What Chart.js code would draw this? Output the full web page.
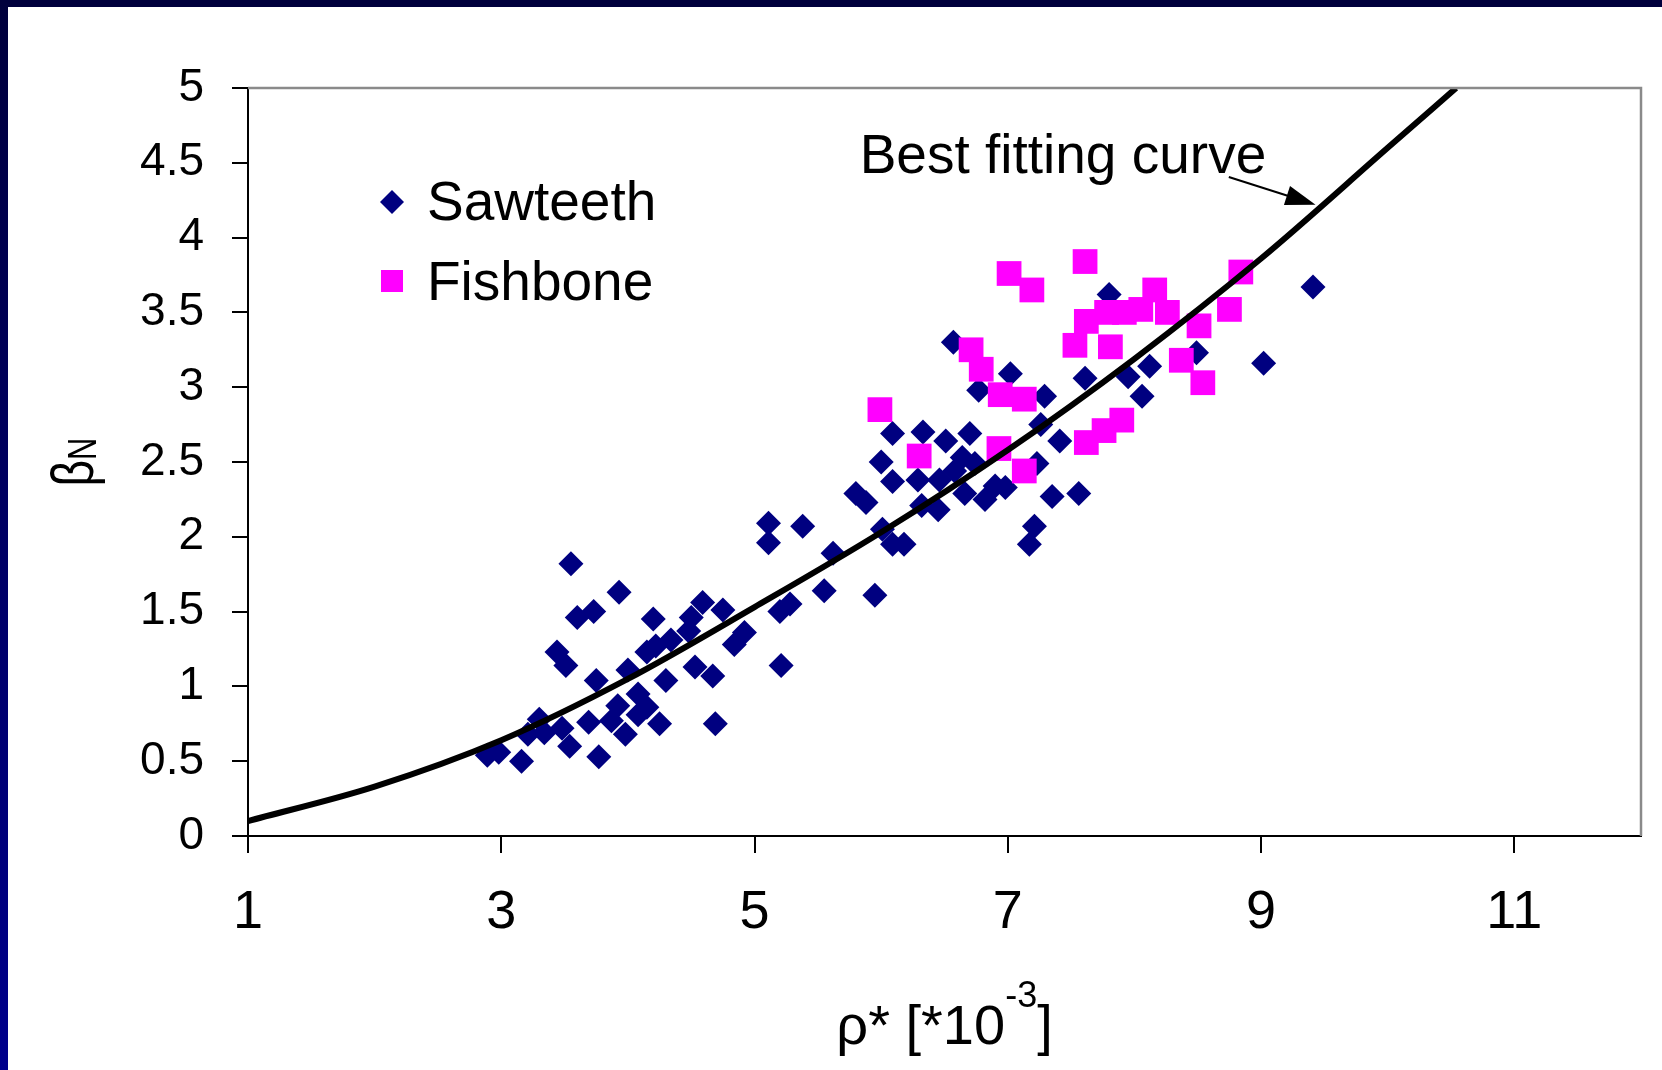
<!DOCTYPE html>
<html>
<head>
<meta charset="utf-8">
<title>beta_N vs rho*</title>
<script src="https://cdn.jsdelivr.net/npm/chart.js@4.4.0/dist/chart.umd.min.js"></script>
<style>
  html, body { margin: 0; padding: 0; background: #fff; }
  #wrap { position: relative; width: 1662px; height: 1070px; overflow: hidden; background: #fff; }
  #chart { position: absolute; left: 0; top: 0; }
  #topBand { position: absolute; left: 0; top: 0; width: 1662px; height: 7px; background: #00003c; }
  #leftBand { position: absolute; left: 0; top: 0; width: 8px; height: 1070px; background: linear-gradient(#00003c, #00008c); }
</style>
</head>
<body>
<div id="wrap">
  <canvas id="chart" width="1662" height="1070"></canvas>
  <div id="topBand"></div>
  <div id="leftBand"></div>
</div>
<script>
// values
var sawteethX = [3.55, 3.93, 3.60, 3.73, 4.20, 3.44, 3.51, 3.75, 4.00, 4.15, 4.30, 4.53,
  3.30, 3.21, 3.34, 3.48, 3.54, 3.69, 3.87, 3.98, 3.92, 4.08, 4.15, 4.25, 4.08,
  3.77, 3.16, 2.89, 2.98, 4.34, 4.48, 4.50, 4.22,
  6.09, 6.33, 6.51, 6.00, 6.09, 6.29, 6.46, 5.80, 5.88, 6.32, 6.45, 5.11, 5.11, 5.38,
  6.01, 6.09, 6.18, 5.62, 5.55, 5.95, 5.28, 5.20, 4.59, 4.75, 4.92, 4.84, 4.67, 5.21, 4.69,
  6.57, 7.02, 6.77, 7.29, 7.26, 6.70, 7.41, 6.64, 6.74, 7.23, 6.58, 6.66, 6.82, 6.98,
  6.90, 7.35, 7.21, 7.17,
  7.80, 7.61, 7.95, 8.12, 8.06, 7.56,
  8.49, 9.02, 9.41];
var sawteethY = [1.82, 1.63, 1.46, 1.50, 1.45, 1.23, 1.14, 1.04, 1.11, 1.23, 1.04, 1.13,
  0.78, 0.68, 0.69, 0.72, 0.60, 0.76, 0.77, 0.68, 0.87, 0.81, 0.86, 0.75, 0.95,
  0.53, 0.50, 0.54, 0.56, 1.31, 1.37, 1.46, 1.27,
  2.69, 2.70, 2.64, 2.50, 2.37, 2.38, 2.38, 2.29, 2.23, 2.21, 2.18, 2.09, 1.96, 2.07,
  2.05, 1.95, 1.95, 1.89, 1.64, 1.61, 1.55, 1.50, 1.56, 1.51, 1.36, 1.28, 1.07, 1.14, 0.75,
  3.30, 3.09, 2.98, 2.94, 2.75, 2.69, 2.64, 2.53, 2.49, 2.49, 2.44, 2.29, 2.25, 2.33,
  2.34, 2.27, 2.07, 1.95,
  3.62, 3.06, 3.07, 3.14, 2.94, 2.29,
  3.23, 3.16, 3.67];

var fishboneX = [5.99, 6.30, 7.01, 7.19, 6.71, 6.79, 6.94, 7.13, 6.93, 7.13,
  7.61, 8.16, 7.78, 7.92, 8.05, 8.26, 7.62, 7.53, 7.81, 8.37, 7.90, 7.76, 7.62,
  8.84, 8.75, 8.51, 8.54];
var fishboneY = [2.85, 2.54, 3.76, 3.65, 3.25, 3.12, 2.95, 2.92, 2.59, 2.44,
  3.84, 3.65, 3.50, 3.50, 3.52, 3.50, 3.44, 3.28, 3.27, 3.18, 2.78, 2.71, 2.63,
  3.77, 3.52, 3.41, 3.03];

// best fitting curve, read at these x positions
var curveX = [1, 2, 3, 4, 5, 6, 7, 8, 9, 10, 10.54];
var curveY = [0.10, 0.33, 0.64, 1.05, 1.53, 2.03, 2.58, 3.19, 3.86, 4.60, 5.00];

var xTicks = [1, 3, 5, 7, 9, 11];
var yTicks = [0, 0.5, 1, 1.5, 2, 2.5, 3, 3.5, 4, 4.5, 5];

function toPoints(xs, ys) {
  return xs.map(function (x, i) { return { x: x, y: ys[i] }; });
}

var SANS = "'Liberation Sans', Arial, Helvetica, sans-serif";
var NARROW = "'Liberation Sans Narrow', 'Liberation Sans', Arial, sans-serif";

// axis titles, legend, frame and the arrow note
var decorPlugin = {
  id: 'decor',
  afterDraw: function (chart) {
    var ctx = chart.ctx, a = chart.chartArea, xs = chart.scales.x, ys = chart.scales.y;
    ctx.save();

    // grey frame on top and right
    ctx.strokeStyle = '#8a8a8a';
    ctx.lineWidth = 2.5;
    ctx.beginPath();
    ctx.moveTo(a.left, a.top);
    ctx.lineTo(a.right, a.top);
    ctx.lineTo(a.right, a.bottom);
    ctx.stroke();

    ctx.fillStyle = '#000';
    ctx.textBaseline = 'alphabetic';

    // legend
    var lx = a.left + 144;
    ctx.fillStyle = '#000080';
    ctx.beginPath();
    ctx.moveTo(lx - 12, 202); ctx.lineTo(lx, 190); ctx.lineTo(lx + 12, 202); ctx.lineTo(lx, 214);
    ctx.closePath();
    ctx.fill();
    ctx.fillStyle = '#ff00ff';
    ctx.fillRect(lx - 11, 270, 22, 22);
    ctx.fillStyle = '#000';
    ctx.font = '55px ' + SANS;
    ctx.textAlign = 'left';
    ctx.fillText('Sawteeth', 427, 220);
    ctx.fillText('Fishbone', 427, 300);

    // note with arrow
    ctx.fillText('Best fitting curve', xs.getPixelForValue(5.83), ys.getPixelForValue(4.43));
    var x0 = xs.getPixelForValue(8.745), y0 = ys.getPixelForValue(4.405);
    var x1 = xs.getPixelForValue(9.43), y1 = ys.getPixelForValue(4.22);
    var ang = Math.atan2(y1 - y0, x1 - x0);
    ctx.strokeStyle = '#000';
    ctx.lineWidth = 2;
    ctx.beginPath();
    ctx.moveTo(x0, y0);
    ctx.lineTo(x1 - 26 * Math.cos(ang), y1 - 26 * Math.sin(ang));
    ctx.stroke();
    ctx.beginPath();
    ctx.moveTo(x1, y1);
    ctx.lineTo(x1 - 30 * Math.cos(ang) + 10 * Math.sin(ang), y1 - 30 * Math.sin(ang) - 10 * Math.cos(ang));
    ctx.lineTo(x1 - 30 * Math.cos(ang) - 10 * Math.sin(ang), y1 - 30 * Math.sin(ang) + 10 * Math.cos(ang));
    ctx.closePath();
    ctx.fill();

    // x title: rho* [*10^-3]
    var cx = (a.left + a.right) / 2, base = 1044;
    ctx.font = '56px ' + NARROW;
    var p1 = '\u03c1* [*10', p3 = ']';
    var w1 = ctx.measureText(p1).width, w3 = ctx.measureText(p3).width;
    ctx.font = '36px ' + NARROW;
    var w2 = ctx.measureText('-3').width;
    var sx = cx - (w1 + w2 + w3) / 2;
    ctx.font = '56px ' + NARROW;
    ctx.fillText(p1, sx, base);
    ctx.fillText(p3, sx + w1 + w2, base);
    ctx.font = '36px ' + NARROW;
    ctx.fillText('-3', sx + w1, base - 37);

    // y title: beta_N, rotated
    ctx.translate(93, (a.top + a.bottom) / 2);
    ctx.rotate(-Math.PI / 2);
    ctx.scale(1, 1.3);
    ctx.font = '46px ' + SANS;
    var wb = ctx.measureText('\u03b2').width;
    ctx.font = '31px ' + SANS;
    var wn = ctx.measureText('N').width;
    var tx = -(wb + wn) / 2;
    ctx.font = '46px ' + SANS;
    ctx.fillText('\u03b2', tx, 0);
    ctx.font = '31px ' + SANS;
    ctx.fillText('N', tx + wb, 2);

    ctx.restore();
  }
};

new Chart(document.getElementById('chart'), {
  type: 'scatter',
  data: {
    datasets: [{
      label: 'Best fitting curve',
      data: toPoints(curveX, curveY),
      showLine: true,
      borderColor: '#000',
      borderWidth: 6,
      pointRadius: 0,
      cubicInterpolationMode: 'monotone',
      order: 1
    }, {
      label: 'Fishbone',
      data: toPoints(fishboneX, fishboneY),
      pointStyle: 'rect',
      pointRadius: 17.5,
      pointHoverRadius: 17.5,
      backgroundColor: '#ff00ff',
      borderWidth: 0,
      order: 2
    }, {
      label: 'Sawteeth',
      data: toPoints(sawteethX, sawteethY),
      pointStyle: 'rectRot',
      pointRadius: 12.5,
      pointHoverRadius: 12.5,
      backgroundColor: '#000080',
      borderWidth: 0,
      order: 3
    }]
  },
  options: {
    responsive: false,
    animation: false,
    events: [],
    layout: { padding: { left: 0, top: 88, right: 21, bottom: 0 } },
    plugins: {
      legend: { display: false },
      tooltip: { enabled: false }
    },
    scales: {
      x: {
        type: 'linear',
        min: 1,
        max: 12,
        afterBuildTicks: function (s) { s.ticks = xTicks.map(function (v) { return { value: v }; }); },
        afterFit: function (s) { s.height = 234; },
        grid: { drawOnChartArea: false, color: '#000', lineWidth: 2, tickLength: 17 },
        border: { color: '#000', width: 2 },
        ticks: {
          color: '#000', padding: 28, maxRotation: 0,
          font: { family: NARROW, size: 54 },
          callback: function (v) { return String(v); }
        }
      },
      y: {
        type: 'linear',
        min: 0,
        max: 5,
        afterBuildTicks: function (s) { s.ticks = yTicks.map(function (v) { return { value: v }; }); },
        afterFit: function (s) { s.width = 248; },
        grid: { drawOnChartArea: false, color: '#000', lineWidth: 2, tickLength: 16 },
        border: { color: '#000', width: 2 },
        ticks: {
          color: '#000', padding: 28,
          font: { family: SANS, size: 46 },
          callback: function (v) { return String(v); }
        }
      }
    }
  },
  plugins: [decorPlugin]
});
</script>
</body>
</html>
